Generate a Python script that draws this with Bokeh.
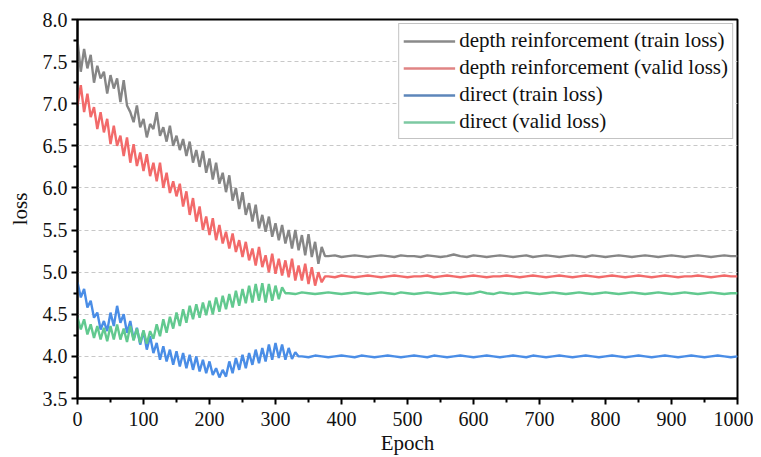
from bokeh.plotting import figure
from bokeh.models import Range1d, FixedTicker, NumeralTickFormatter, Legend, LegendItem
from bokeh.embed import file_html
from bokeh.resources import INLINE

# ---- data ----
series_names = ["depth reinforcement (train loss)", "depth reinforcement (valid loss)",
                "direct (train loss)", "direct (valid loss)"]

# noisy phase sampled every 5 epochs, plateau every 10 epochs
gray_head = [7.75, 7.38, 7.65, 7.42, 7.58, 7.25, 7.45, 7.30, 7.38, 7.12,
             7.34, 7.18, 7.30, 7.02, 7.28, 6.98, 6.90, 6.78, 6.98, 6.72,
             6.82, 6.60, 6.76, 6.70, 6.90, 6.62, 6.72, 6.55, 6.74, 6.50,
             6.62, 6.45, 6.58, 6.38, 6.55, 6.30, 6.45, 6.25, 6.44, 6.18,
             6.35, 6.10, 6.30, 6.05, 6.18, 5.95, 6.15, 5.85, 6.00, 5.75,
             5.95, 5.68, 5.82, 5.60, 5.80, 5.52, 5.68, 5.48, 5.66, 5.42,
             5.58, 5.38, 5.56, 5.34, 5.50, 5.28, 5.50, 5.26, 5.44, 5.20,
             5.45, 5.18, 5.36, 5.10, 5.30, 5.19]
gray_tail = [5.19, 5.20, 5.18, 5.19, 5.20, 5.19, 5.18, 5.19, 5.20, 5.19,
             5.18, 5.20, 5.19, 5.19, 5.18, 5.20, 5.19, 5.18, 5.19, 5.21,
             5.19, 5.18, 5.20, 5.19, 5.18, 5.19, 5.20, 5.19, 5.18, 5.19,
             5.20, 5.18, 5.19, 5.20, 5.19, 5.18, 5.19, 5.20, 5.19, 5.18,
             5.20, 5.19, 5.18, 5.19, 5.20, 5.19, 5.18, 5.19, 5.20, 5.19,
             5.18, 5.19, 5.20, 5.19, 5.18, 5.19, 5.20, 5.19, 5.18, 5.19,
             5.20, 5.19, 5.19]

red_head = [6.98, 7.22, 6.90, 7.12, 6.84, 6.96, 6.70, 6.90, 6.66, 6.82,
            6.52, 6.74, 6.50, 6.62, 6.38, 6.60, 6.30, 6.52, 6.26, 6.42,
            6.20, 6.40, 6.14, 6.30, 6.08, 6.30, 6.00, 6.18, 5.94, 6.08,
            5.90, 6.05, 5.78, 5.96, 5.68, 5.88, 5.60, 5.78, 5.50, 5.66,
            5.44, 5.64, 5.38, 5.56, 5.34, 5.48, 5.28, 5.46, 5.24, 5.38,
            5.18, 5.36, 5.14, 5.28, 5.08, 5.30, 5.06, 5.20, 5.00, 5.22,
            4.98, 5.16, 4.96, 5.14, 4.94, 5.16, 4.90, 5.08, 4.90, 5.10,
            4.86, 5.06, 4.84, 5.00, 4.88, 4.95]
red_tail = [4.95, 4.94, 4.96, 4.95, 4.94, 4.95, 4.96, 4.95, 4.94, 4.95,
            4.96, 4.95, 4.94, 4.95, 4.95, 4.96, 4.94, 4.95, 4.96, 4.95,
            4.94, 4.95, 4.96, 4.95, 4.94, 4.95, 4.95, 4.96, 4.95, 4.94,
            4.95, 4.96, 4.95, 4.94, 4.95, 4.96, 4.95, 4.94, 4.95, 4.96,
            4.95, 4.94, 4.95, 4.96, 4.95, 4.94, 4.95, 4.96, 4.95, 4.94,
            4.95, 4.96, 4.95, 4.94, 4.95, 4.95, 4.96, 4.95, 4.94, 4.95,
            4.96, 4.95, 4.95]

blue_head = [4.88, 4.70, 4.80, 4.58, 4.66, 4.46, 4.52, 4.32, 4.42, 4.30,
             4.52, 4.36, 4.60, 4.40, 4.50, 4.28, 4.42, 4.20, 4.34, 4.14,
             4.30, 4.08, 4.24, 4.04, 4.16, 3.96, 4.12, 3.94, 4.08, 3.90,
             4.06, 3.88, 4.04, 3.86, 4.02, 3.84, 4.00, 3.82, 3.96, 3.80,
             3.94, 3.78, 3.86, 3.75, 3.84, 3.76, 3.94, 3.80, 3.98, 3.84,
             4.02, 3.86, 4.04, 3.90, 4.08, 3.92, 4.10, 3.94, 4.14, 3.96,
             4.16, 3.98, 4.14, 3.96, 4.10, 3.97, 4.05, 4.00]
blue_tail = [4.00, 3.99, 4.01, 4.00, 3.99, 4.00, 4.01, 4.00, 3.99, 4.01,
             4.00, 3.99, 4.00, 4.01, 4.00, 3.99, 4.00, 4.01, 4.00, 3.99,
             4.01, 4.00, 3.99, 4.00, 4.01, 4.00, 3.99, 4.00, 4.01, 4.00,
             3.99, 4.00, 4.01, 4.00, 3.99, 4.01, 4.00, 3.99, 4.00, 4.01,
             4.00, 3.99, 4.00, 4.01, 4.00, 3.99, 4.00, 4.01, 4.00, 3.99,
             4.00, 4.01, 4.00, 3.99, 4.00, 4.01, 4.00, 3.99, 4.00, 4.01,
             4.00, 3.99, 4.00, 4.01, 4.00, 3.99, 4.00]

green_head = [4.46, 4.32, 4.44, 4.26, 4.38, 4.22, 4.36, 4.20, 4.34, 4.18,
              4.36, 4.20, 4.38, 4.20, 4.33, 4.17, 4.36, 4.19, 4.33, 4.16,
              4.31, 4.15, 4.30, 4.21, 4.38, 4.24, 4.44, 4.28, 4.47, 4.33,
              4.52, 4.36, 4.56, 4.40, 4.60, 4.44, 4.62, 4.46, 4.64, 4.49,
              4.66, 4.50, 4.70, 4.53, 4.72, 4.56, 4.74, 4.58, 4.78, 4.60,
              4.80, 4.63, 4.84, 4.64, 4.86, 4.66, 4.87, 4.64, 4.86, 4.66,
              4.84, 4.68, 4.82, 4.75]
green_tail = [4.75, 4.74, 4.76, 4.75, 4.74, 4.75, 4.76, 4.75, 4.74, 4.75,
              4.76, 4.75, 4.74, 4.75, 4.76, 4.75, 4.74, 4.76, 4.75, 4.74,
              4.75, 4.76, 4.75, 4.74, 4.75, 4.76, 4.75, 4.74, 4.75, 4.77,
              4.75, 4.74, 4.76, 4.75, 4.74, 4.75, 4.76, 4.75, 4.74, 4.75,
              4.76, 4.75, 4.74, 4.75, 4.76, 4.75, 4.74, 4.75, 4.76, 4.75,
              4.74, 4.75, 4.76, 4.75, 4.74, 4.75, 4.76, 4.75, 4.74, 4.75,
              4.76, 4.75, 4.74, 4.75, 4.76, 4.75, 4.74, 4.75, 4.75]

x_ticks = [0, 100, 200, 300, 400, 500, 600, 700, 800, 900, 1000]
y_ticks = [3.5, 4.0, 4.5, 5.0, 5.5, 6.0, 6.5, 7.0, 7.5, 8.0]

colors = ["#868686", "#f26a6a", "#4a8de6", "#62c98f"]
legend_colors = ["#8a8a8a", "#e08484", "#5d86ba", "#7cc9a2"]

FONT = "Liberation Serif"


def build_xy(head, tail):
    xs = [5 * i for i in range(len(head))]
    start = xs[-1] + 5
    n = len(tail)
    xt = [start + (1000 - start) * i / (n - 1) for i in range(n)]
    return xs + xt, head + tail


p = figure(width=753, height=457, output_backend="svg", toolbar_location=None,
           x_range=Range1d(0, 1000), y_range=Range1d(3.5, 8.0))
p.min_border_left = 77
p.min_border_right = 16
p.min_border_top = 19
p.min_border_bottom = 57
p.background_fill_color = "white"
p.border_fill_color = "white"
p.outline_line_color = "black"
p.outline_line_width = 2

for head, tail, c in [(gray_head, gray_tail, colors[0]), (red_head, red_tail, colors[1]),
                      (blue_head, blue_tail, colors[2]), (green_head, green_tail, colors[3])]:
    xs, ys = build_xy(head, tail)
    p.line(xs, ys, line_color=c, line_width=2.4)

# legend with muted sample lines
legend_renderers = []
for c in legend_colors:
    lr = p.line([0, 0], [0, 0], line_color=c, line_width=2.5)
    legend_renderers.append(lr)

legend = Legend(items=[LegendItem(label=n, renderers=[lr]) for n, lr in zip(series_names, legend_renderers)],
                location="top_right")
legend.label_text_font = FONT
legend.label_text_font_size = "21px"
legend.label_text_color = "#111111"
legend.label_text_line_height = 1.0
legend.glyph_width = 52
legend.glyph_height = 20
legend.label_height = 20
legend.label_standoff = 4
legend.spacing = 2
legend.padding = 4
legend.margin = 4
legend.border_line_color = "#888888"
legend.border_line_width = 1
legend.background_fill_color = "white"
legend.background_fill_alpha = 1.0
p.add_layout(legend)

# axes
for ax in (p.xaxis[0], p.yaxis[0]):
    ax.axis_line_color = "black"
    ax.axis_line_width = 2
    ax.major_tick_line_color = "black"
    ax.major_tick_line_width = 2
    ax.minor_tick_line_color = "black"
    ax.minor_tick_line_width = 2
    ax.major_tick_out = 6
    ax.major_tick_in = 0
    ax.minor_tick_out = 4
    ax.minor_tick_in = 0
    ax.major_label_text_font = FONT
    ax.major_label_text_font_size = "20px"
    ax.major_label_text_color = "#111111"
    ax.axis_label_text_font = FONT
    ax.axis_label_text_font_size = "21px"
    ax.axis_label_text_font_style = "normal"
    ax.axis_label_text_color = "#111111"

p.xaxis.ticker = FixedTicker(ticks=x_ticks, minor_ticks=[50 + 100 * i for i in range(10)])
p.yaxis.ticker = FixedTicker(ticks=y_ticks, minor_ticks=[3.75 + 0.5 * i for i in range(9)])
p.yaxis.formatter = NumeralTickFormatter(format="0.0")
p.xaxis.axis_label = "Epoch"
p.yaxis.axis_label = "loss"
p.xaxis.axis_label_standoff = 2
p.yaxis.axis_label_standoff = 8
p.xaxis.major_label_standoff = 7
p.yaxis.major_label_standoff = 4

p.xgrid.visible = False
p.ygrid.grid_line_color = "#c8c8c8"
p.ygrid.grid_line_dash = "4 3"
p.ygrid.grid_line_width = 1

open("out.html", "w").write(file_html(p, INLINE))
